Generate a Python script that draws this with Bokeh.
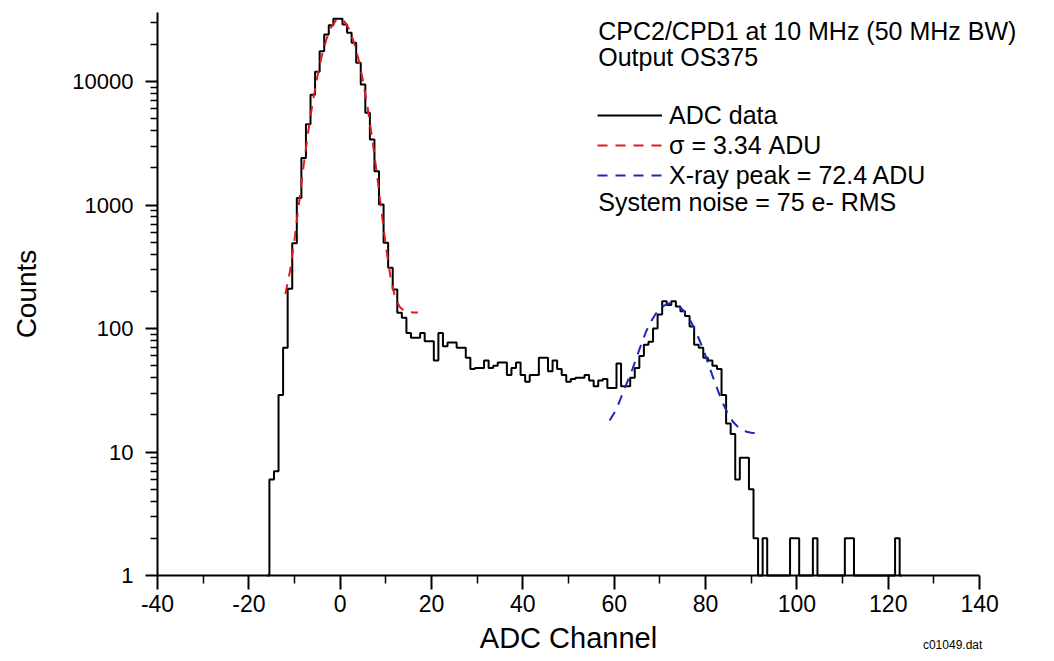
from bokeh.plotting import figure
from bokeh.models import (FixedTicker, NumeralTickFormatter, Label, Legend,
                          LegendItem, Range1d, ColumnDataSource)
from bokeh.embed import file_html
from bokeh.resources import INLINE

# ---- data ----
channels = list(range(-16, 124))
counts = [1, 6, 7, 29, 70, 210, 490, 1140, 2400, 4500, 7800, 12000, 17600, 24000,
          28500, 32300, 32300, 28900, 24800, 20600, 14200, 9460, 5580, 3390, 1880,
          1010, 494, 310, 207, 134, 122, 92, 84, 84, 92, 79, 79, 55, 92, 72, 77, 77,
          70, 70, 58, 47, 48, 48, 55, 48, 50, 53, 53, 42, 48, 53, 42, 37, 42, 42,
          58, 58, 45, 55, 47, 42, 37, 39, 40, 40, 42, 38, 34, 38, 39, 33, 33, 52,
          34, 34, 40, 48, 60, 74, 78, 100, 130, 166, 155, 166, 151, 138, 126, 104,
          74, 70, 58, 55, 50, 47, 29, 17, 14, 6, 9, 9, 5, 2, 1, 2, 1, 1, 1, 1, 1,
          2, 2, 1, 1, 1, 2, 1, 1, 1, 1, 1, 1, 2, 2, 1, 1, 1, 1, 1, 1, 1, 1, 1, 2, 1]

noise_fit_x = list(range(-12, 18))
noise_fit_y = [190, 290, 530, 1050, 2090, 3920, 6860, 11000, 16300, 22100, 27400,
               31000, 32100, 30400, 26400, 20900, 15200, 10100, 6170, 3480, 1830,
               917, 466, 263, 180, 150, 139, 136, 135, 135]

xray_fit_x = list(range(59, 92))
xray_fit_y = [18, 20.7, 24.8, 30.8, 38, 47, 60, 76, 95, 113, 130, 144, 154, 160,
              159, 153, 142, 127, 110, 92, 75, 60, 47, 37, 29.4, 23.9, 20.1, 17.6,
              16.1, 15.1, 14.6, 14.3, 14.2]

x_ticks = [-40, -20, 0, 20, 40, 60, 80, 100, 120, 140]
x_tick_labels = ["-40", "-20", "0", "20", "40", "60", "80", "100", "120", "140"]
x_minor = [-30, -10, 10, 30, 50, 70, 90, 110, 130]
y_ticks = [1, 10, 100, 1000, 10000]
y_minor = [m * d for d in (1, 10, 100, 1000) for m in range(2, 10)] + [20000, 30000]

FONT = "Liberation Sans"

# The frame covers the whole canvas so that no text is cut; both axes are
# pinned (fixed_location) and bounded to -40..140 and 1..36200.
p = figure(width=1040, height=657, x_range=Range1d(-74.38, 153.34),
           y_range=Range1d(0.2168, 45290), y_axis_type="log",
           output_backend="svg", toolbar_location=None,
           min_border_left=0, min_border_right=0,
           min_border_top=0, min_border_bottom=0)
p.outline_line_color = None
p.xgrid.visible = False
p.ygrid.visible = False
p.background_fill_color = "white"

src = ColumnDataSource(dict(x=channels, y=counts))
r_data = p.step(x="x", y="y", source=src, mode="center", line_color="black",
                line_width=2)
r_noise = p.line(noise_fit_x, noise_fit_y, line_color="#e01b24", line_width=2,
                 line_dash="10 8")
r_xray = p.line(xray_fit_x, xray_fit_y, line_color="#1c2bb5", line_width=2,
                line_dash="10 8")

# axes
xa = p.xaxis[0]
xa.fixed_location = 1
xa.bounds = (-40, 140)
xa.ticker = FixedTicker(ticks=x_ticks, minor_ticks=x_minor)
xa.major_label_overrides = {t: s for t, s in zip(x_ticks, x_tick_labels)}
xa.axis_label = "ADC Channel"
xa.axis_label_text_font = FONT
xa.axis_label_text_font_size = "29px"
xa.axis_label_text_font_style = "normal"
xa.axis_label_standoff = 7
xa.major_label_text_font = FONT
xa.major_label_text_font_size = "23px"
xa.major_label_standoff = 5

ya = p.yaxis[0]
ya.fixed_location = -40
ya.bounds = (1, 36200)
ya.ticker = FixedTicker(ticks=y_ticks, minor_ticks=y_minor)
ya.formatter = NumeralTickFormatter(format="0")
ya.axis_label = "Counts"
ya.axis_label_text_font = FONT
ya.axis_label_text_font_size = "28px"
ya.axis_label_text_font_style = "normal"
ya.axis_label_standoff = 27
ya.major_label_text_font = FONT
ya.major_label_text_font_size = "22px"
ya.major_label_standoff = 12

for ax, mt, nt in ((xa, 14, 8), (ya, 12, 7)):
    ax.axis_line_width = 2
    ax.axis_line_color = "black"
    ax.major_tick_line_width = 2
    ax.major_tick_line_color = "black"
    ax.minor_tick_line_width = 1.5
    ax.minor_tick_line_color = "black"
    ax.major_tick_out = mt
    ax.major_tick_in = 0
    ax.minor_tick_out = nt
    ax.minor_tick_in = 0
    ax.major_label_text_color = "black"
    ax.axis_label_text_color = "black"

# legend
legend = Legend(items=[LegendItem(label="ADC data", renderers=[r_data]),
                       LegendItem(label="σ = 3.34 ADU", renderers=[r_noise]),
                       LegendItem(label="X-ray peak = 72.4 ADU", renderers=[r_xray])],
                location=(597, 467), border_line_color=None,
                background_fill_alpha=0, padding=0, margin=0, spacing=0,
                glyph_width=65, glyph_height=30, label_height=30,
                label_standoff=7, label_text_font=FONT,
                label_text_font_size="25px", label_text_color="black")
p.add_layout(legend, "center")

def add_text(txt, x, y, size="25px", align="left"):
    p.add_layout(Label(x=x, y=y, text=txt, text_font=FONT, text_font_size=size,
                       text_baseline="middle", text_align=align,
                       text_color="black"))

add_text("CPC2/CPD1 at 10 MHz (50 MHz BW)", 56.5, 25880)
add_text("Output OS375", 56.5, 15790)
add_text("System noise = 75 e- RMS", 56.5, 1057)
add_text("c01049.dat", 140.6, 0.276, size="12px", align="right")

open("out.html", "w").write(file_html(p, INLINE))
